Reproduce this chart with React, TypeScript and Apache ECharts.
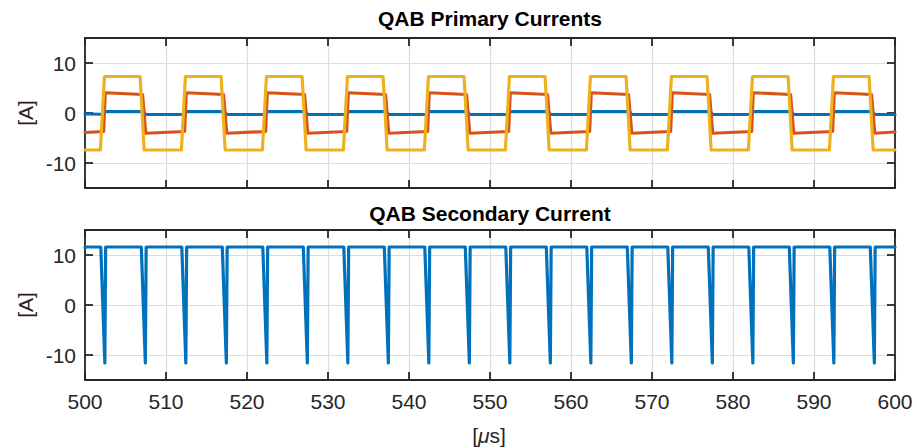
import React, { useEffect, useRef } from 'react';
import * as echarts from 'echarts';

// ---- data (time in µs, current in A) ----
const xTickLabels = ['500', '510', '520', '530', '540', '550', '560', '570', '580', '590', '600'];
const yTickValues = [-10, 0, 10];

const primaryBlue: [number, number][] = [
  [500, -0.2],
  [502.3, -0.25], [502.5, 0.3], [507.2, 0.3], [507.5, -0.3],
  [512.3, -0.3], [512.5, 0.3], [517.2, 0.3], [517.5, -0.3],
  [522.3, -0.3], [522.5, 0.3], [527.2, 0.3], [527.5, -0.3],
  [532.3, -0.3], [532.5, 0.3], [537.2, 0.3], [537.5, -0.3],
  [542.3, -0.3], [542.5, 0.3], [547.2, 0.3], [547.5, -0.3],
  [552.3, -0.3], [552.5, 0.3], [557.2, 0.3], [557.5, -0.3],
  [562.3, -0.3], [562.5, 0.3], [567.2, 0.3], [567.5, -0.3],
  [572.3, -0.3], [572.5, 0.3], [577.2, 0.3], [577.5, -0.3],
  [582.3, -0.3], [582.5, 0.3], [587.2, 0.3], [587.5, -0.3],
  [592.3, -0.3], [592.5, 0.3], [597.2, 0.3], [597.5, -0.3],
  [600, -0.3],
];

const primaryRed: [number, number][] = [
  [500, -3.9],
  [502.3, -3.7], [502.5, 4.05], [507.1, 3.7], [507.5, -4.05],
  [512.3, -3.7], [512.5, 4.05], [517.1, 3.7], [517.5, -4.05],
  [522.3, -3.7], [522.5, 4.05], [527.1, 3.7], [527.5, -4.05],
  [532.3, -3.7], [532.5, 4.05], [537.1, 3.7], [537.5, -4.05],
  [542.3, -3.7], [542.5, 4.05], [547.1, 3.7], [547.5, -4.05],
  [552.3, -3.7], [552.5, 4.05], [557.1, 3.7], [557.5, -4.05],
  [562.3, -3.7], [562.5, 4.05], [567.1, 3.7], [567.5, -4.05],
  [572.3, -3.7], [572.5, 4.05], [577.1, 3.7], [577.5, -4.05],
  [582.3, -3.7], [582.5, 4.05], [587.1, 3.7], [587.5, -4.05],
  [592.3, -3.7], [592.5, 4.05], [597.1, 3.7], [597.5, -4.05],
  [600, -3.8],
];

const primaryYellow: [number, number][] = [
  [500, -7.4],
  [501.9, -7.4], [502.4, 7.3], [506.8, 7.3], [507.3, -7.4],
  [511.9, -7.4], [512.4, 7.3], [516.8, 7.3], [517.3, -7.4],
  [521.9, -7.4], [522.4, 7.3], [526.8, 7.3], [527.3, -7.4],
  [531.9, -7.4], [532.4, 7.3], [536.8, 7.3], [537.3, -7.4],
  [541.9, -7.4], [542.4, 7.3], [546.8, 7.3], [547.3, -7.4],
  [551.9, -7.4], [552.4, 7.3], [556.8, 7.3], [557.3, -7.4],
  [561.9, -7.4], [562.4, 7.3], [566.8, 7.3], [567.3, -7.4],
  [571.9, -7.4], [572.4, 7.3], [576.8, 7.3], [577.3, -7.4],
  [581.9, -7.4], [582.4, 7.3], [586.8, 7.3], [587.3, -7.4],
  [591.9, -7.4], [592.4, 7.3], [596.8, 7.3], [597.3, -7.4],
  [600, -7.4],
];

const secondaryBlue: [number, number][] = [
  [500, 11.6],
  [501.95, 11.6], [502.45, -11.6], [502.55, 11.6],
  [506.95, 11.6], [507.45, -11.6], [507.55, 11.6],
  [511.95, 11.6], [512.45, -11.6], [512.55, 11.6],
  [516.95, 11.6], [517.45, -11.6], [517.55, 11.6],
  [521.95, 11.6], [522.45, -11.6], [522.55, 11.6],
  [526.95, 11.6], [527.45, -11.6], [527.55, 11.6],
  [531.95, 11.6], [532.45, -11.6], [532.55, 11.6],
  [536.95, 11.6], [537.45, -11.6], [537.55, 11.6],
  [541.95, 11.6], [542.45, -11.6], [542.55, 11.6],
  [546.95, 11.6], [547.45, -11.6], [547.55, 11.6],
  [551.95, 11.6], [552.45, -11.6], [552.55, 11.6],
  [556.95, 11.6], [557.45, -11.6], [557.55, 11.6],
  [561.95, 11.6], [562.45, -11.6], [562.55, 11.6],
  [566.95, 11.6], [567.45, -11.6], [567.55, 11.6],
  [571.95, 11.6], [572.45, -11.6], [572.55, 11.6],
  [576.95, 11.6], [577.45, -11.6], [577.55, 11.6],
  [581.95, 11.6], [582.45, -11.6], [582.55, 11.6],
  [586.95, 11.6], [587.45, -11.6], [587.55, 11.6],
  [591.95, 11.6], [592.45, -11.6], [592.55, 11.6],
  [596.95, 11.6], [597.45, -11.6], [597.55, 11.6],
  [600, 11.6],
];

const titles = ['QAB Primary Currents', 'QAB Secondary Current'];
const yLabel = '[A]';

// ---- styles ----
const FONT = '"Liberation Sans", Arial, Helvetica, sans-serif';
const AXIS_COLOR = '#262626';
const GRID_COLOR = '#dcdcdc';
const BLUE = '#0072BD';
const RED = '#D95319';
const YELLOW = '#EDB120';

const gridTops = [38, 230];

function makeXAxes(gridIndex: number, showLabels: boolean) {
  const common = {
    type: 'value' as const,
    gridIndex,
    min: 500,
    max: 600,
    interval: 10,
    axisLine: { show: true, onZero: false, lineStyle: { color: AXIS_COLOR, width: 1.8 } },
    axisTick: { show: true, inside: true, length: 8, lineStyle: { color: AXIS_COLOR, width: 1.8 } },
  };
  return [
    {
      ...common,
      position: 'bottom',
      axisLabel: {
        show: showLabels,
        fontSize: 21,
        fontFamily: FONT,
        color: AXIS_COLOR,
        margin: 11,
        formatter: (v: number) => xTickLabels[Math.round((v - 500) / 10)] ?? '',
      },
      splitLine: { show: true, lineStyle: { color: GRID_COLOR, width: 1.2 } },
    },
    {
      ...common,
      position: 'top',
      axisLabel: { show: false },
      splitLine: { show: false },
    },
  ];
}

function makeYAxes(gridIndex: number) {
  const common = {
    type: 'value' as const,
    gridIndex,
    min: -15,
    max: 15,
    interval: 5,
    axisLine: { show: true, onZero: false, lineStyle: { color: AXIS_COLOR, width: 1.8 } },
    axisTick: {
      show: true,
      inside: true,
      length: 8,
      customValues: yTickValues,
      lineStyle: { color: AXIS_COLOR, width: 1.8 },
    },
  };
  return [
    {
      ...common,
      position: 'left',
      axisLabel: {
        show: true,
        customValues: yTickValues,
        fontSize: 21,
        fontFamily: FONT,
        color: AXIS_COLOR,
        margin: 9,
      },
      splitLine: { show: true, lineStyle: { color: GRID_COLOR, width: 1.2 } },
    },
    {
      ...common,
      position: 'right',
      axisLabel: { show: false },
      splitLine: { show: false },
    },
  ];
}

function lineSeries(name: string, data: [number, number][], color: string, xi: number, yi: number) {
  return {
    type: 'line' as const,
    name,
    data,
    xAxisIndex: xi,
    yAxisIndex: yi,
    showSymbol: false,
    symbol: 'none',
    lineStyle: { color, width: 3.2, join: 'round', cap: 'round' },
    itemStyle: { color },
    clip: true,
  };
}

export default function App() {
  const ref = useRef<HTMLDivElement>(null);

  useEffect(() => {
    if (!ref.current) return;
    const chart = echarts.init(ref.current, null, { renderer: 'svg' });
    const option: any = {
      animation: false,
      backgroundColor: '#ffffff',
      grid: gridTops.map((top) => ({ left: 85, top, width: 810, height: 150, containLabel: false })),
      xAxis: [...makeXAxes(0, false), ...makeXAxes(1, true)],
      yAxis: [...makeYAxes(0), ...makeYAxes(1)],
      series: [
        lineSeries('Primary 1', primaryBlue, BLUE, 0, 0),
        lineSeries('Primary 2', primaryRed, RED, 0, 0),
        lineSeries('Primary 3', primaryYellow, YELLOW, 0, 0),
        lineSeries('Secondary', secondaryBlue, BLUE, 2, 2),
      ],
      graphic: [
        {
          type: 'text',
          x: 490,
          y: 18,
          style: {
            text: titles[0],
            fontSize: 21,
            fontWeight: 'bold',
            fontFamily: FONT,
            fill: '#000',
            align: 'center',
            verticalAlign: 'middle',
          },
        },
        {
          type: 'text',
          x: 490,
          y: 213,
          style: {
            text: titles[1],
            fontSize: 21,
            fontWeight: 'bold',
            fontFamily: FONT,
            fill: '#000',
            align: 'center',
            verticalAlign: 'middle',
          },
        },
        ...[113, 305].map((y) => ({
          type: 'text',
          x: 25,
          y,
          rotation: Math.PI / 2,
          style: {
            text: yLabel,
            fontSize: 21,
            fontFamily: FONT,
            fill: AXIS_COLOR,
            align: 'center',
            verticalAlign: 'middle',
          },
        })),
        {
          type: 'text',
          x: 489,
          y: 435,
          style: {
            text: '[{i|μ}s]',
            fontSize: 21,
            fontFamily: FONT,
            fill: AXIS_COLOR,
            align: 'center',
            verticalAlign: 'middle',
            rich: {
              i: { fontSize: 21, fontFamily: FONT, fontStyle: 'italic', fill: AXIS_COLOR },
            },
          },
        },
      ],
    };
    chart.setOption(option);
    return () => chart.dispose();
  }, []);

  return (
    <div
      ref={ref}
      style={{ position: 'fixed', left: 0, top: 0, width: 917, height: 448, background: '#fff' }}
    />
  );
}
